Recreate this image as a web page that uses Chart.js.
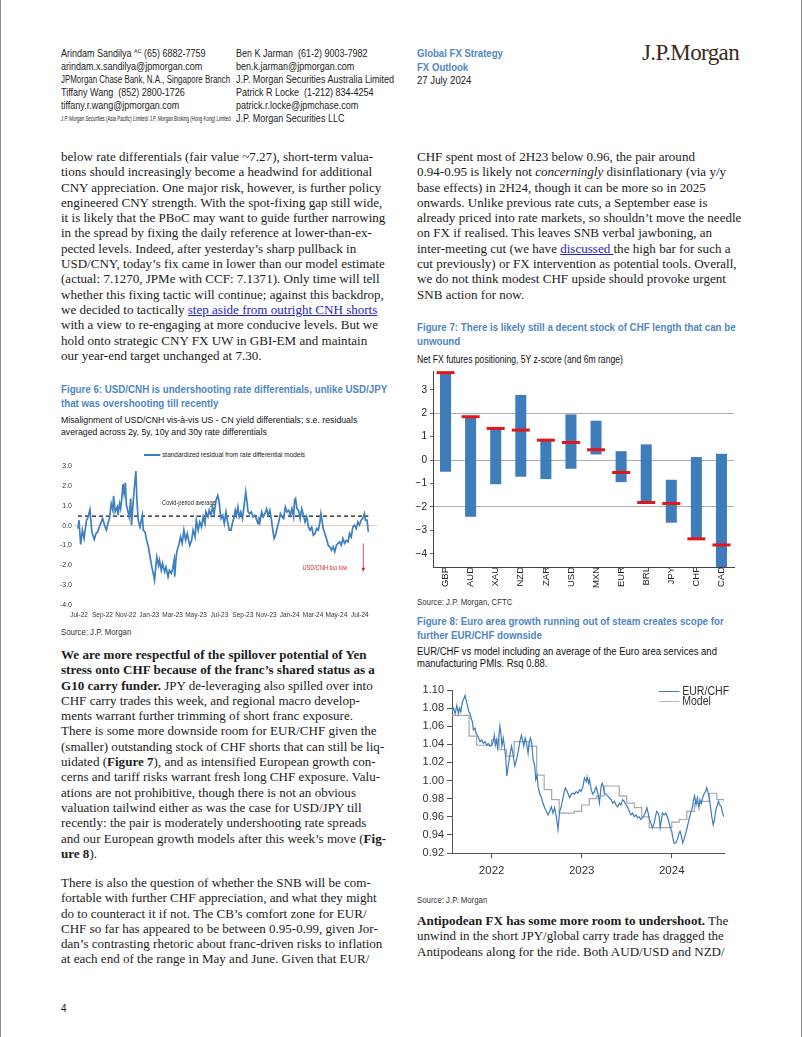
<!DOCTYPE html>
<html>
<head>
<meta charset="utf-8">
<title>FX Outlook - page 4</title>
<script src="https://cdn.jsdelivr.net/npm/chart.js@4.4.1/dist/chart.umd.min.js"></script>
<style>
  body { margin: 0; background: #fff; }
  #page { position: relative; width: 800px; height: 1037px; border-left: 1px solid #8c8c8c; border-right: 1px solid #8c8c8c; overflow: hidden; color: #1b1b1b; font-family: "Liberation Serif", "Times New Roman", serif; }
  .a { position: absolute; white-space: nowrap; transform-origin: 0 0; }
  .hd { font-family: "Liberation Sans", Arial, sans-serif; font-size: 10px; line-height: 13px; color: #222; }
  .hd sup { font-size: 6px; vertical-align: 4px; line-height: 0; }
  .blue { color: #4f86c6; font-weight: bold; }
  .logo { font-family: "Liberation Serif", "Times New Roman", serif; font-size: 23px; letter-spacing: -0.6px; color: #3a2a20; }
  .tx { font-size: 13.05px; line-height: 15.3px; }
  .tx div { white-space: nowrap; height: 15.3px; }
  .ttl { font-family: "Liberation Sans", Arial, sans-serif; font-weight: bold; color: #4f86c6; font-size: 11px; line-height: 13.5px; transform: scaleX(0.885); }
  .sub { font-family: "Liberation Sans", Arial, sans-serif; font-size: 10px; line-height: 12px; color: #111; transform: scaleX(0.96); }
  .src { font-family: "Liberation Sans", Arial, sans-serif; font-size: 8.5px; color: #333; transform: scaleX(0.92); }
  a { color: #1f22c4; text-decoration: underline; }
  canvas { position: absolute; }
  .lg { font-family: "Liberation Sans", Arial, sans-serif; }
  .lg i { display: inline-block; vertical-align: middle; }
</style>
</head>
<body>
<div id="page">

  <!-- header -->
  <div class="a hd" style="left:60px; top:47px; transform:scaleX(0.9);">
    <div>Arindam Sandilya <sup>AC</sup> (65) 6882-7759</div>
    <div>arindam.x.sandilya@jpmorgan.com</div>
    <div style="transform:scaleX(0.88); transform-origin:0 0;">JPMorgan Chase Bank, N.A., Singapore Branch</div>
    <div>Tiffany Wang&nbsp; (852) 2800-1726</div>
    <div>tiffany.r.wang@jpmorgan.com</div>
    <div style="font-size:7px; transform:scaleX(0.7); transform-origin:0 0;">J.P. Morgan Securities (Asia Pacific) Limited/ J.P. Morgan Broking (Hong Kong) Limited</div>
  </div>
  <div class="a hd" style="left:235px; top:47px; transform:scaleX(0.9);">
    <div>Ben K Jarman&nbsp; (61-2) 9003-7982</div>
    <div>ben.k.jarman@jpmorgan.com</div>
    <div>J.P. Morgan Securities Australia Limited</div>
    <div>Patrick R Locke&nbsp; (1-212) 834-4254</div>
    <div>patrick.r.locke@jpmchase.com</div>
    <div>J.P. Morgan Securities LLC</div>
  </div>
  <div class="a hd" style="left:416px; top:47px; line-height:13.5px; transform:scaleX(0.96);">
    <div class="blue">Global FX Strategy</div>
    <div class="blue">FX Outlook</div>
    <div>27 July 2024</div>
  </div>
  <div class="a logo" style="left:641px; top:40px;">J.P.Morgan</div>

  <!-- left column text -->
  <div class="a tx" style="left:60px; top:149px;">
    <div>below rate differentials (fair value ~7.27), short-term valua-</div>
    <div>tions should increasingly become a headwind for additional</div>
    <div>CNY appreciation. One major risk, however, is further policy</div>
    <div>engineered CNY strength. With the spot-fixing gap still wide,</div>
    <div>it is likely that the PBoC may want to guide further narrowing</div>
    <div>in the spread by fixing the daily reference at lower-than-ex-</div>
    <div>pected levels. Indeed, after yesterday’s sharp pullback in</div>
    <div>USD/CNY, today’s fix came in lower than our model estimate</div>
    <div>(actual: 7.1270, JPMe with CCF: 7.1371). Only time will tell</div>
    <div>whether this fixing tactic will continue; against this backdrop,</div>
    <div>we decided to tactically <a>step aside from outright CNH shorts</a></div>
    <div>with a view to re-engaging at more conducive levels. But we</div>
    <div>hold onto strategic CNY FX UW in GBI-EM and maintain</div>
    <div>our year-end target unchanged at 7.30.</div>
  </div>

  <div class="a ttl" style="left:60px; top:383px;">
    <div>Figure 6: USD/CNH is undershooting rate differentials, unlike USD/JPY</div>
    <div>that was overshooting till recently</div>
  </div>
  <div class="a sub" style="left:60px; top:414px; font-size:9px; transform:scaleX(0.97);">
    <div>Misalignment of USD/CNH vis-à-vis US - CN yield differentials; s.e. residuals</div>
    <div>averaged across 2y, 5y, 10y and 30y rate differentials</div>
  </div>
  <div class="a lg" style="left:143px; top:450px; font-size:7.5px; color:#222; transform:scaleX(0.86);">
    <i style="width:19px; border-top:2px solid #3d7fc0;"></i> standardized residual from rate differential models
  </div>
  <canvas id="fig6" width="325" height="180" style="left:55px; top:445px;"></canvas>
  <div class="a src" style="left:60px; top:627px;">Source: J.P. Morgan</div>

  <div class="a tx" style="left:60px; top:647px;">
    <div><b>We are more respectful of the spillover potential of Yen</b></div>
    <div><b>stress onto CHF because of the franc’s shared status as a</b></div>
    <div><b>G10 carry funder.</b> JPY de-leveraging also spilled over into</div>
    <div>CHF carry trades this week, and regional macro develop-</div>
    <div>ments warrant further trimming of short franc exposure.</div>
    <div>There is some more downside room for EUR/CHF given the</div>
    <div>(smaller) outstanding stock of CHF shorts that can still be liq-</div>
    <div>uidated (<b>Figure 7</b>), and as intensified European growth con-</div>
    <div>cerns and tariff risks warrant fresh long CHF exposure. Valu-</div>
    <div>ations are not prohibitive, though there is not an obvious</div>
    <div>valuation tailwind either as was the case for USD/JPY till</div>
    <div>recently: the pair is moderately undershooting rate spreads</div>
    <div>and our European growth models after this week’s move (<b>Fig-</b></div>
    <div><b>ure 8</b>).</div>
  </div>
  <div class="a tx" style="left:60px; top:875px;">
    <div>There is also the question of whether the SNB will be com-</div>
    <div>fortable with further CHF appreciation, and what they might</div>
    <div>do to counteract it if not. The CB’s comfort zone for EUR/</div>
    <div>CHF so far has appeared to be between 0.95-0.99, given Jor-</div>
    <div>dan’s contrasting rhetoric about franc-driven risks to inflation</div>
    <div>at each end of the range in May and June. Given that EUR/</div>
  </div>
  <div class="a" style="left:60px; top:1003px; font-family:'Liberation Sans',Arial,sans-serif; font-size:10px;">4</div>

  <!-- right column -->
  <div class="a tx" style="left:416px; top:149px;">
    <div>CHF spent most of 2H23 below 0.96, the pair around</div>
    <div>0.94-0.95 is likely not <i>concerningly</i> disinflationary (via y/y</div>
    <div>base effects) in 2H24, though it can be more so in 2025</div>
    <div>onwards. Unlike previous rate cuts, a September ease is</div>
    <div>already priced into rate markets, so shouldn’t move the needle</div>
    <div>on FX if realised. This leaves SNB verbal jawboning, an</div>
    <div>inter-meeting cut (we have <a>discussed </a>the high bar for such a</div>
    <div>cut previously) or FX intervention as potential tools. Overall,</div>
    <div>we do not think modest CHF upside should provoke urgent</div>
    <div>SNB action for now.</div>
  </div>

  <div class="a ttl" style="left:416px; top:321px;">
    <div>Figure 7: There is likely still a decent stock of CHF length that can be</div>
    <div>unwound</div>
  </div>
  <div class="a sub" style="left:416px; top:354px; transform:scaleX(0.86);">Net FX futures positioning, 5Y z-score (and 6m range)</div>
  <canvas id="fig7" width="335" height="238" style="left:410px; top:359px;"></canvas>
  <div class="a src" style="left:416px; top:597px;">Source: J.P. Morgan, CFTC</div>

  <div class="a ttl" style="left:416px; top:615px;">
    <div>Figure 8: Euro area growth running out of steam creates scope for</div>
    <div>further EUR/CHF downside</div>
  </div>
  <div class="a sub" style="left:416px; top:646px; transform:scaleX(0.95);">
    <div>EUR/CHF vs model including an average of the Euro area services and</div>
    <div>manufacturing PMIs. Rsq 0.88.</div>
  </div>
  <canvas id="fig8" width="330" height="200" style="left:410px; top:680px;"></canvas>
  <div class="a lg" style="left:658px; top:686px; font-size:12px; line-height:10px; color:#333; transform:scaleX(0.88);">
    <div><i style="width:23px; border-top:1.5px solid #3d7dbd;"></i> EUR/CHF</div>
    <div><i style="width:23px; border-top:1.5px solid #a9b9cc;"></i> Model</div>
  </div>
  <div class="a src" style="left:416px; top:895px;">Source: J.P. Morgan</div>

  <div class="a tx" style="left:416px; top:913px;">
    <div><b>Antipodean FX has some more room to undershoot.</b> The</div>
    <div>unwind in the short JPY/global carry trade has dragged the</div>
    <div>Antipodeans along for the ride. Both AUD/USD and NZD/</div>
  </div>
</div>

<script>
// ---- Figure 6: standardized residual, [months since Jul-22, value]
const residual = [
  [-0.09,-0.15],[0.00,0.27],[0.14,-0.95],[0.29,-0.23],[0.43,-0.65],[0.64,0.27],[0.78,0.43],[0.93,0.80],
  [1.10,-0.32],[1.30,-0.70],[1.45,-0.40],[1.59,-0.32],[1.79,0.02],[2.02,0.35],[2.23,-0.07],[2.34,-0.23],
  [2.46,0.10],[2.60,0.35],[2.75,1.10],[2.89,0.77],[2.95,1.50],[3.09,0.70],[3.27,0.94],[3.33,0.52],
  [3.47,1.10],[3.56,0.85],[3.67,1.45],[3.76,2.10],[3.85,1.61],[3.96,2.15],[4.05,1.02],[4.19,0.69],
  [4.28,0.44],[4.42,1.36],[4.48,0.02],[4.66,1.44],[4.86,2.75],[4.95,1.27],[5.06,0.27],[5.21,-0.07],
  [5.41,0.52],[5.49,-0.23],[5.64,-0.32],[5.78,-0.74],[5.93,-1.07],[6.07,-1.57],[6.22,-2.08],[6.36,-2.45],
  [6.45,-2.75],[6.56,-2.08],[6.65,-1.57],[6.80,-2.00],[6.88,-1.74],[7.03,-2.25],[7.14,-1.91],[7.32,-2.33],
  [7.43,-2.08],[7.61,-2.58],[7.72,-2.25],[7.89,-2.41],[8.01,-2.16],[8.13,-1.74],[8.18,-2.58],[8.30,-1.57],
  [8.39,-1.24],[8.53,-0.99],[8.68,-0.57],[8.82,-0.90],[8.96,-0.23],[9.11,-0.74],[9.25,-0.40],[9.46,-1.00],
  [9.63,-0.74],[9.75,-0.23],[9.92,-0.57],[10.03,0.27],[10.18,-0.23],[10.32,0.18],[10.47,-0.07],[10.61,0.44],
  [10.76,0.10],[10.84,0.69],[11.02,0.44],[11.13,0.77],[11.28,0.52],[11.42,0.94],[11.54,0.60],[11.71,1.27],
  [11.86,1.52],[12.00,1.10],[12.06,0.69],[12.14,0.35],[12.28,0.52],[12.42,0.10],[12.56,0.69],[12.70,0.18],
  [12.85,-0.23],[12.99,-0.23],[13.13,0.18],[13.27,0.44],[13.35,0.77],[13.46,0.52],[13.58,0.94],[13.69,0.44],
  [13.83,0.69],[13.97,0.35],[14.11,1.02],[14.25,1.69],[14.34,1.27],[14.45,0.69],[14.59,0.60],[14.73,0.69],
  [14.87,0.44],[15.01,0.52],[15.15,0.35],[15.30,0.10],[15.38,0.44],[15.46,0.18],[15.61,0.69],[15.75,0.44],
  [15.89,0.60],[16.03,0.85],[16.17,0.52],[16.31,0.77],[16.45,0.27],[16.56,-0.23],[16.68,-0.65],[16.79,-0.49],
  [16.93,-0.15],[17.07,0.18],[17.21,0.60],[17.35,0.44],[17.49,0.35],[17.63,0.94],[17.77,0.69],[17.92,0.77],
  [18.06,0.52],[18.20,0.85],[18.34,0.44],[18.42,1.27],[18.51,1.36],[18.62,0.85],[18.76,0.77],[18.90,0.35],
  [19.04,0.85],[19.18,0.52],[19.32,0.18],[19.46,0.44],[19.61,-0.07],[19.75,-0.23],[19.89,-0.07],[20.03,-0.49],
  [20.17,-0.40],[20.31,-0.15],[20.45,-0.23],[20.59,0.18],[20.68,0.60],[20.79,0.18],[20.87,-0.15],[21.01,-0.40],
  [21.15,-0.65],[21.30,-0.99],[21.44,-1.07],[21.58,-1.24],[21.72,-1.07],[21.86,-1.32],[22.00,-0.99],[22.14,-0.90],
  [22.28,-0.82],[22.42,-0.99],[22.56,-0.65],[22.70,-0.90],[22.85,-0.74],[22.99,-0.82],[23.13,-0.40],[23.27,-0.57],
  [23.41,-0.07],[23.55,0.02],[23.69,-0.15],[23.83,0.18],[23.97,0.02],[24.11,0.27],[24.25,0.35],[24.39,0.60],
  [24.48,0.27],[24.62,0.27],[24.73,-0.32]
];
const covidAvg = 0.48;
const monthTicks = [0, 2, 4, 6, 8, 10, 12, 14, 16, 18, 20, 22, 24];
const monthLabels = ['Jul-22','Sep-22','Nov-22','Jan-23','Mar-23','May-23','Jul-23','Sep-23','Nov-23','Jan-24','Mar-24','May-24','Jul-24'];
const covidNote = { text: 'Covid-period average', m: 7.1, v: 1.15 };
const lowNote = { text: 'USD/CNH too low', m: 19.1, v: -2.14 };
const lowArrow = { m: 24.3, from: -0.9, to: -2.32 };

// ---- Figure 7: 5Y z-score, 6m range and latest
const currencies = ['GBP','AUD','XAU','NZD','ZAR','USD','MXN','EUR','BRL','JPY','CHF','CAD'];
const rangeLow  = [-0.50,-2.42,-1.03,-0.71,-0.81,-0.37, 0.24,-0.94,-1.81,-2.67,-3.36,-4.70];
const rangeHigh = [ 3.70, 1.85, 1.35, 2.78, 0.85, 1.95, 1.68, 0.38, 0.67,-0.84, 0.13, 0.27];
const latest    = [ 3.73, 1.85, 1.35, 1.28, 0.85, 0.75, 0.44,-0.53,-1.81,-1.85,-3.36,-3.62];

// ---- Figure 8: EUR/CHF [year, level] and monthly model
const eurchf = [
  [2021.558,1.076],[2021.576,1.080],[2021.595,1.074],[2021.613,1.083],[2021.632,1.074],[2021.643,1.080],[2021.657,1.076],[2021.676,1.087],
  [2021.694,1.091],[2021.705,1.094],[2021.716,1.089],[2021.731,1.083],[2021.746,1.076],[2021.761,1.074],[2021.772,1.069],[2021.786,1.065],
  [2021.797,1.056],[2021.816,1.058],[2021.827,1.052],[2021.842,1.050],[2021.856,1.047],[2021.871,1.043],[2021.890,1.045],[2021.908,1.041],
  [2021.926,1.043],[2021.945,1.039],[2021.963,1.041],[2021.982,1.038],[2022.000,1.039],[2022.018,1.043],[2022.029,1.050],[2022.041,1.039],
  [2022.055,1.045],[2022.066,1.036],[2022.081,1.049],[2022.092,1.060],[2022.103,1.052],[2022.114,1.038],[2022.129,1.047],[2022.147,1.034],
  [2022.158,1.023],[2022.169,1.005],[2022.184,1.016],[2022.203,1.028],[2022.221,1.038],[2022.239,1.028],[2022.258,1.016],[2022.276,1.023],
  [2022.295,1.032],[2022.313,1.043],[2022.331,1.050],[2022.343,1.045],[2022.357,1.038],[2022.372,1.047],[2022.387,1.041],[2022.405,1.030],
  [2022.416,1.041],[2022.431,1.047],[2022.446,1.041],[2022.460,1.023],[2022.479,1.016],[2022.490,1.001],[2022.505,1.006],[2022.516,0.993],
  [2022.534,0.986],[2022.552,0.981],[2022.571,0.975],[2022.589,0.970],[2022.608,0.966],[2022.626,0.962],[2022.645,0.966],[2022.663,0.971],
  [2022.681,0.964],[2022.700,0.970],[2022.718,0.960],[2022.737,0.946],[2022.755,0.966],[2022.773,0.971],[2022.792,0.981],[2022.803,0.986],
  [2022.818,0.992],[2022.829,0.990],[2022.847,0.986],[2022.866,0.981],[2022.884,0.985],[2022.902,0.986],[2022.921,0.985],[2022.939,0.988],
  [2022.958,0.986],[2022.976,0.990],[2022.994,0.988],[2023.013,0.993],[2023.031,1.003],[2023.050,0.999],[2023.061,1.004],[2023.076,0.997],
  [2023.087,1.001],[2023.105,0.990],[2023.123,0.985],[2023.142,0.988],[2023.160,0.993],[2023.179,0.986],[2023.197,0.975],[2023.215,0.993],
  [2023.227,0.997],[2023.241,0.993],[2023.252,0.986],[2023.271,0.985],[2023.289,0.983],[2023.308,0.981],[2023.326,0.979],[2023.344,0.975],
  [2023.363,0.977],[2023.381,0.973],[2023.400,0.971],[2023.418,0.975],[2023.436,0.973],[2023.455,0.979],[2023.473,0.977],[2023.492,0.973],
  [2023.510,0.971],[2023.529,0.966],[2023.547,0.962],[2023.565,0.964],[2023.584,0.960],[2023.602,0.962],[2023.621,0.959],[2023.639,0.960],
  [2023.657,0.957],[2023.676,0.959],[2023.694,0.962],[2023.713,0.966],[2023.724,0.970],[2023.738,0.964],[2023.753,0.957],[2023.768,0.953],
  [2023.786,0.948],[2023.805,0.953],[2023.823,0.962],[2023.834,0.966],[2023.849,0.964],[2023.860,0.960],[2023.871,0.948],[2023.886,0.957],
  [2023.897,0.964],[2023.915,0.962],[2023.934,0.964],[2023.952,0.960],[2023.971,0.953],[2023.989,0.946],[2024.000,0.944],[2024.011,0.937],
  [2024.026,0.931],[2024.044,0.931],[2024.063,0.935],[2024.081,0.942],[2024.092,0.944],[2024.107,0.939],[2024.122,0.931],[2024.136,0.935],
  [2024.155,0.942],[2024.173,0.949],[2024.192,0.957],[2024.210,0.964],[2024.228,0.970],[2024.239,0.977],[2024.254,0.983],[2024.269,0.973],
  [2024.284,0.981],[2024.302,0.970],[2024.313,0.979],[2024.328,0.975],[2024.343,0.981],[2024.357,0.985],[2024.376,0.988],[2024.387,0.992],
  [2024.401,0.988],[2024.416,0.981],[2024.431,0.970],[2024.446,0.959],[2024.460,0.951],[2024.475,0.957],[2024.490,0.968],[2024.505,0.973],
  [2024.519,0.977],[2024.534,0.973],[2024.549,0.971],[2024.564,0.964],[2024.578,0.960]
];
const modelMonths = ['2021-07','2021-08','2021-09','2021-10','2021-11','2021-12','2022-01','2022-02','2022-03','2022-04','2022-05','2022-06',
  '2022-07','2022-08','2022-09','2022-10','2022-11','2022-12','2023-01','2023-02','2023-03','2023-04','2023-05','2023-06',
  '2023-07','2023-08','2023-09','2023-10','2023-11','2023-12','2024-01','2024-02','2024-03','2024-04','2024-05','2024-06','2024-07','2024-08'];
const modelValues = [1.072,1.072,1.072,1.049,1.039,1.039,1.045,1.034,1.027,1.043,1.043,1.038,
  1.006,0.990,0.979,0.964,0.964,0.966,0.973,0.980,0.983,0.994,0.994,0.983,
  0.975,0.970,0.960,0.948,0.948,0.948,0.954,0.957,0.966,0.975,0.977,0.986,0.979,0.975];
const yearTicks = [2022, 2023, 2024];

Chart.defaults.font.family = '"Liberation Sans", Arial, sans-serif';
const noGrid = 'rgba(0,0,0,0)';

// narrow-looking text on the canvas (no condensed face installed)
function squeezeText(ctx, text, x, y, k) {
  ctx.save();
  ctx.translate(x, y);
  ctx.scale(k, 1);
  ctx.fillText(text, 0, 0);
  ctx.restore();
}

const fig6Notes = {
  id: 'fig6Notes',
  afterDatasetsDraw(chart) {
    const { ctx } = chart;
    const x = chart.scales.x, y = chart.scales.y;
    ctx.save();
    ctx.font = '7px "Liberation Sans", Arial, sans-serif';
    ctx.textBaseline = 'middle';
    ctx.fillStyle = '#222';
    squeezeText(ctx, covidNote.text, x.getPixelForValue(covidNote.m), y.getPixelForValue(covidNote.v), 0.8);
    ctx.fillStyle = '#d42a32';
    squeezeText(ctx, lowNote.text, x.getPixelForValue(lowNote.m), y.getPixelForValue(lowNote.v), 0.8);
    const ax = x.getPixelForValue(lowArrow.m);
    const y0 = y.getPixelForValue(lowArrow.from), y1 = y.getPixelForValue(lowArrow.to);
    ctx.strokeStyle = '#d42a32';
    ctx.lineWidth = 0.8;
    ctx.beginPath(); ctx.moveTo(ax, y0); ctx.lineTo(ax, y1 - 3); ctx.stroke();
    ctx.beginPath(); ctx.moveTo(ax - 2, y1 - 4); ctx.lineTo(ax + 2, y1 - 4); ctx.lineTo(ax, y1); ctx.closePath(); ctx.fill();
    ctx.restore();
  }
};

new Chart(document.getElementById('fig6'), {
  type: 'line',
  data: {
    datasets: [
      { data: residual.map(([m, v]) => ({ x: m, y: v })), borderColor: '#3d7fc0', borderWidth: 1.7, pointRadius: 0, tension: 0 },
      { data: [{ x: residual[0][0], y: covidAvg }, { x: residual[residual.length - 1][0], y: covidAvg }],
        borderColor: '#111', borderWidth: 1.3, borderDash: [4, 3], pointRadius: 0 }
    ]
  },
  options: {
    responsive: false, animation: false, events: [],
    layout: { padding: { top: 21, right: 4, left: 0, bottom: 0 } },
    plugins: { legend: { display: false }, tooltip: { enabled: false } },
    scales: {
      x: {
        type: 'linear', min: -0.43, max: 25.47,
        afterFit(s) { s.height = 20; },
        afterBuildTicks(s) { s.ticks = monthTicks.map(v => ({ value: v })); },
        ticks: { autoSkip: false, maxRotation: 0, padding: 6, font: { size: 6.5 }, color: '#333',
                 callback: v => monthLabels[monthTicks.indexOf(v)] },
        grid: { display: false, drawTicks: false }, border: { display: false }
      },
      y: {
        min: -4, max: 3,
        afterFit(s) { s.width = 18; },
        ticks: { stepSize: 1, padding: 2, font: { size: 7 }, color: '#333', callback: v => v.toFixed(1) },
        grid: { drawTicks: false, color: c => (c.tick && c.tick.value === 0 ? '#f0cdbb' : noGrid) },
        border: { display: false }
      }
    }
  },
  plugins: [fig6Notes]
});

new Chart(document.getElementById('fig7'), {
  type: 'bar',
  data: {
    labels: currencies,
    datasets: [
      { type: 'line', data: latest, showLine: false, pointStyle: 'line', pointRadius: 9, pointHoverRadius: 9,
        pointBorderWidth: 3, borderColor: '#e3161b', pointBorderColor: '#e3161b', clip: false, order: 0 },
      { data: rangeLow.map((lo, i) => [lo, rangeHigh[i]]), backgroundColor: '#3f7cba',
        barPercentage: 0.44, categoryPercentage: 1, order: 1 }
    ]
  },
  options: {
    responsive: false, animation: false, events: [],
    layout: { padding: { top: 0, right: 5, left: 0, bottom: 0 } },
    plugins: { legend: { display: false }, tooltip: { enabled: false } },
    scales: {
      x: {
        afterFit(s) { s.height = 30; },
        ticks: { minRotation: 90, maxRotation: 90, padding: 0, font: { size: 9.5 }, color: '#222', autoSkip: false },
        grid: { display: false, drawTicks: false }, border: { color: '#444', width: 1 }
      },
      y: {
        min: -4.56, max: 3.8,
        afterFit(s) { s.width = 22; },
        ticks: { stepSize: 1, includeBounds: false, padding: 3, font: { size: 10 }, color: '#222',
                 callback: v => (v < 0 ? '\u2212' + Math.abs(v) : String(v)) },
        grid: { drawTicks: true, tickLength: 3, tickColor: '#444', lineWidth: 0.8,
                color: c => (c.tick && [2, 0, -2].includes(c.tick.value) ? '#9a9a9a' : noGrid) },
        border: { color: '#444', width: 1 }
      }
    }
  }
});

const ym = s => Number(s.slice(0, 4)) + (Number(s.slice(5, 7)) - 1) / 12;
new Chart(document.getElementById('fig8'), {
  type: 'line',
  data: {
    datasets: [
      { label: 'EUR/CHF', data: eurchf.map(([t, v]) => ({ x: t, y: v })), borderColor: '#3d7dbd', borderWidth: 1.2, pointRadius: 0, tension: 0 },
      { label: 'Model', data: modelMonths.map((m, i) => ({ x: ym(m), y: modelValues[i] })), borderColor: '#a3a8b0', borderWidth: 1.2, pointRadius: 0, stepped: true }
    ]
  },
  options: {
    responsive: false, animation: false, events: [],
    layout: { padding: { top: 10, right: 17, left: 0, bottom: 0 } },
    plugins: { legend: { display: false }, tooltip: { enabled: false } },
    scales: {
      x: {
        type: 'linear', min: 2021.56, max: 2024.58,
        afterFit(s) { s.height = 27; },
        afterBuildTicks(s) { s.ticks = yearTicks.map(v => ({ value: v })); },
        ticks: { autoSkip: false, maxRotation: 0, padding: 6, font: { size: 11.5 }, color: '#333', callback: v => String(v) },
        grid: { drawOnChartArea: false, drawTicks: true, tickLength: 5, color: '#555' },
        border: { color: '#555', width: 1 }
      },
      y: {
        min: 0.92, max: 1.10,
        afterFit(s) { s.width = 41; },
        ticks: { stepSize: 0.02, padding: 3, font: { size: 11 }, color: '#333', callback: v => v.toFixed(2) },
        grid: { drawOnChartArea: false, drawTicks: true, tickLength: 5, color: '#555' },
        border: { color: '#555', width: 1 }
      }
    }
  }
});
</script>
</body>
</html>
